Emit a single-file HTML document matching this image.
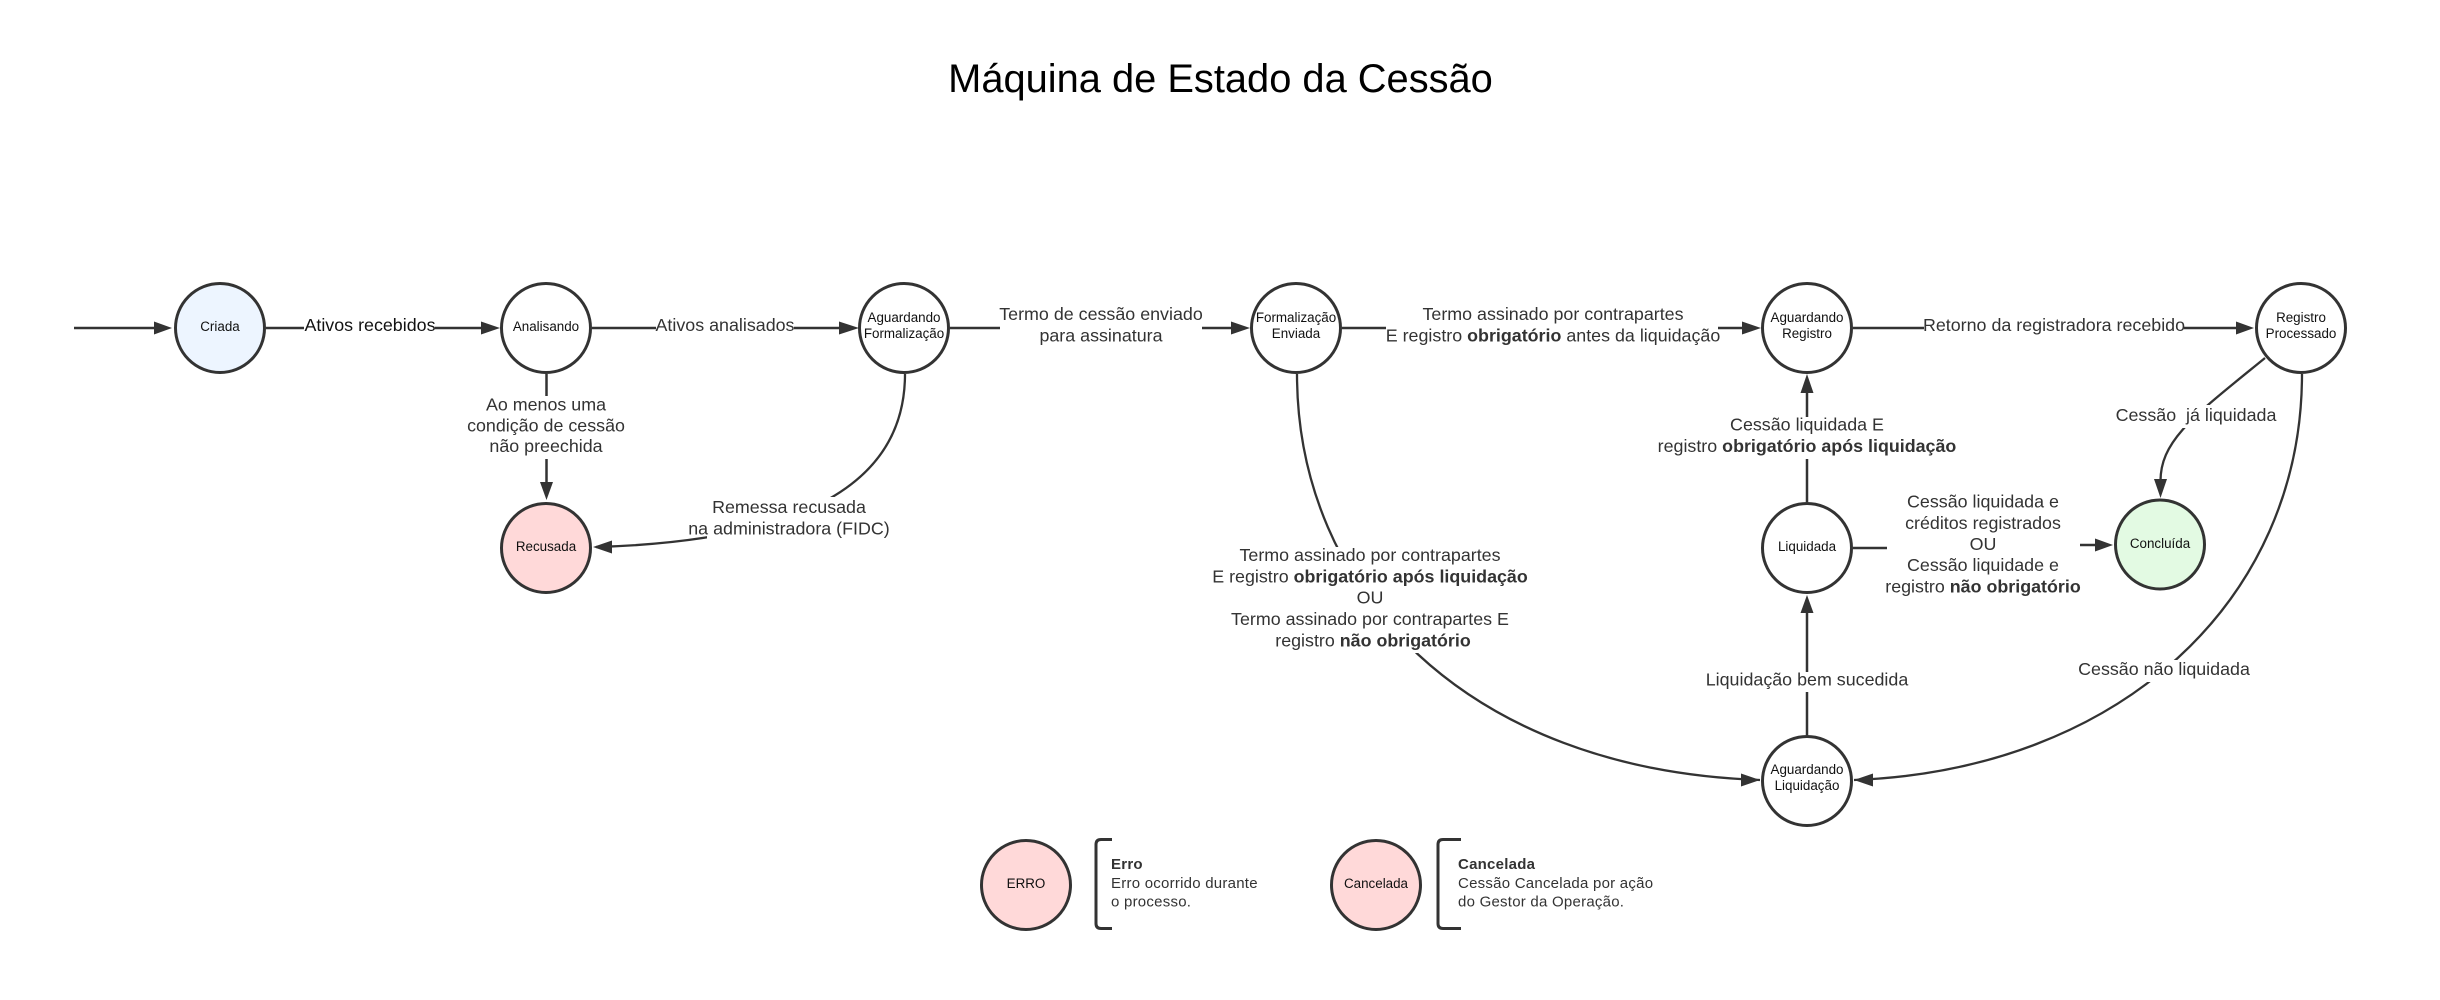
<!DOCTYPE html>
<html lang="pt">
<head>
<meta charset="utf-8">
<title>Máquina de Estado da Cessão</title>
<style>
html,body{margin:0;padding:0;background:#fff;width:2440px;height:1000px;overflow:hidden}
svg{display:block}
text{font-family:"Liberation Sans",Arial,sans-serif}
.l{font-size:17.86px;fill:#333;text-anchor:middle}
.n{font-size:13.4px;fill:#111;text-anchor:middle}
.g{font-size:15px;fill:#333;letter-spacing:.24px}
.b{font-weight:bold}
.c{stroke:#333;stroke-width:3}
.e{stroke:#333;stroke-width:2.5;fill:none}
.k{stroke:#333;stroke-width:2.3;fill:none}
.a{fill:#333}
</style>
</head>
<body>
<svg width="2440" height="1000" viewBox="0 0 2440 1000" xmlns="http://www.w3.org/2000/svg">
<rect width="2440" height="1000" fill="#fff"/>
<text x="1220.5" y="92" font-size="39.85" fill="#000" text-anchor="middle">Máquina de Estado da Cessão</text>

<!-- curved edges -->
<path class="k" d="M905 374C905 500 770 542 596 547"/>
<path class="k" d="M1297 374C1297 590 1465 770 1760 780"/>
<path class="k" d="M2265 358C2195 415 2160 440 2160.500 482"/>
<path class="k" d="M2302 374C2302 600 2120 770 1854 780"/>
<rect x="707" y="497" width="188" height="44" fill="#fff"/>
<rect x="1213" y="547" width="315" height="106" fill="#fff"/>
<rect x="2114" y="405" width="164" height="23" fill="#fff"/>
<rect x="2077" y="660" width="174" height="22" fill="#fff"/>

<!-- straight edges -->
<path class="e" d="M74 328H156M266 328H304M435 328H485M592 328H656M794 328H842M950 328H1000M1202 328H1235M1342 328H1386M1718 328H1745M1853 328H1924M2184 328H2240"/>
<path class="e" d="M546.500 374V396M546.500 459V485"/>
<path class="e" d="M1807 502V459M1807 417V390M1807 735V692M1807 672V610"/>
<path class="e" d="M1853 548H1887M2080 545H2098"/>

<!-- arrowheads -->
<polygon class="a" points="172,328 154,321.500 154,334.500"/>
<polygon class="a" points="500,328 481,321.500 481,334.500"/>
<polygon class="a" points="859,328 839,321.500 839,334.500"/>
<polygon class="a" points="1250,328 1231,321.500 1231,334.500"/>
<polygon class="a" points="1761,328 1742,321.500 1742,334.500"/>
<polygon class="a" points="2254,328 2236,321.500 2236,334.500"/>
<polygon class="a" points="546.500,500 540,482 553,482"/>
<polygon class="a" points="593,547 612,540.500 612,553.500"/>
<polygon class="a" points="2160.500,498 2154,479 2167,479"/>
<polygon class="a" points="1807,374 1800.500,393 1813.500,393"/>
<polygon class="a" points="1807,595 1800.500,613 1813.500,613"/>
<polygon class="a" points="2113,545 2095,538.500 2095,551.500"/>
<polygon class="a" points="1760,780 1741,773.500 1741,786.500"/>
<polygon class="a" points="1854,780 1873,773.500 1873,786.500"/>

<!-- nodes -->
<circle class="c" cx="220" cy="328" r="44.500" fill="#edf5ff"/>
<circle class="c" cx="546" cy="328" r="44.500" fill="#fff"/>
<circle class="c" cx="904" cy="328" r="44.500" fill="#fff"/>
<circle class="c" cx="1296" cy="328" r="44.500" fill="#fff"/>
<circle class="c" cx="1807" cy="328" r="44.500" fill="#fff"/>
<circle class="c" cx="2301" cy="328" r="44.500" fill="#fff"/>
<circle class="c" cx="546" cy="548" r="44.500" fill="#ffd9d9"/>
<circle class="c" cx="1807" cy="548" r="44.500" fill="#fff"/>
<circle class="c" cx="2160" cy="544.500" r="44.500" fill="#e3fae3"/>
<circle class="c" cx="1807" cy="781" r="44.500" fill="#fff"/>
<circle class="c" cx="1026" cy="885" r="44.500" fill="#ffd9d9"/>
<circle class="c" cx="1376" cy="885" r="44.500" fill="#ffd9d9"/>

<!-- node labels -->
<text class="n" x="220" y="331">Criada</text>
<text class="n" x="546" y="331">Analisando</text>
<text class="n" x="904" y="322">Aguardando</text>
<text class="n" x="904" y="338">Formalização</text>
<text class="n" x="1296" y="322">Formalização</text>
<text class="n" x="1296" y="338">Enviada</text>
<text class="n" x="1807" y="322">Aguardando</text>
<text class="n" x="1807" y="338">Registro</text>
<text class="n" x="2301" y="322">Registro</text>
<text class="n" x="2301" y="338">Processado</text>
<text class="n" x="546" y="551">Recusada</text>
<text class="n" x="1807" y="551">Liquidada</text>
<text class="n" x="2160" y="548">Concluída</text>
<text class="n" x="1807" y="774">Aguardando</text>
<text class="n" x="1807" y="790">Liquidação</text>
<text class="n" x="1026" y="888">ERRO</text>
<text class="n" x="1376" y="888">Cancelada</text>

<!-- edge labels -->
<text class="l" x="370" y="331" style="fill:#111">Ativos recebidos</text>
<text class="l" x="725" y="331">Ativos analisados</text>
<text class="l" x="1101" y="320">Termo de cessão enviado</text>
<text class="l" x="1101" y="341.500">para assinatura</text>
<text class="l" x="1553" y="320">Termo assinado por contrapartes</text>
<text class="l" x="1553" y="341.500">E registro <tspan class="b">obrigatório</tspan> antes da liquidação</text>
<text class="l" x="2054" y="331">Retorno da registradora recebido</text>
<text class="l" x="546" y="410.500">Ao menos uma</text>
<text class="l" x="546" y="431.500">condição de cessão</text>
<text class="l" x="546" y="452">não preechida</text>
<text class="l" x="789" y="513">Remessa recusada</text>
<text class="l" x="789" y="534.500">na administradora (FIDC)</text>
<text class="l" x="1370" y="561">Termo assinado por contrapartes</text>
<text class="l" x="1370" y="582.300">E registro <tspan class="b">obrigatório após liquidação</tspan></text>
<text class="l" x="1370" y="603.600">OU</text>
<text class="l" x="1370" y="625">Termo assinado por contrapartes E</text>
<text class="l" x="1373" y="646.300">registro <tspan class="b">não obrigatório</tspan></text>
<text class="l" x="1807" y="430.500">Cessão liquidada E</text>
<text class="l" x="1807" y="452">registro <tspan class="b">obrigatório após liquidação</tspan></text>
<text class="l" x="1983" y="507.500">Cessão liquidada e</text>
<text class="l" x="1983" y="529">créditos registrados</text>
<text class="l" x="1983" y="550">OU</text>
<text class="l" x="1983" y="571">Cessão liquidade e</text>
<text class="l" x="1983" y="592.500">registro <tspan class="b">não obrigatório</tspan></text>
<text class="l" x="2196" y="421" xml:space="preserve" style="white-space:pre">Cessão  já liquidada</text>
<text class="l" x="2164" y="675">Cessão não liquidada</text>
<text class="l" x="1807" y="685.500">Liquidação bem sucedida</text>

<!-- legend -->
<path d="M1112 839.500H1101Q1096 839.500 1096 844.500V923.500Q1096 928.500 1101 928.500H1112" fill="none" stroke="#333" stroke-width="3"/>
<path d="M1461 839.500H1443Q1438 839.500 1438 844.500V923.500Q1438 928.500 1443 928.500H1461" fill="none" stroke="#333" stroke-width="3"/>
<text class="g b" x="1111" y="869">Erro</text>
<text class="g" x="1111" y="888">Erro ocorrido durante</text>
<text class="g" x="1111" y="906.500">o processo.</text>
<text class="g b" x="1458" y="869">Cancelada</text>
<text class="g" x="1458" y="888">Cessão Cancelada por ação</text>
<text class="g" x="1458" y="906.500">do Gestor da Operação.</text>
</svg>
</body>
</html>
